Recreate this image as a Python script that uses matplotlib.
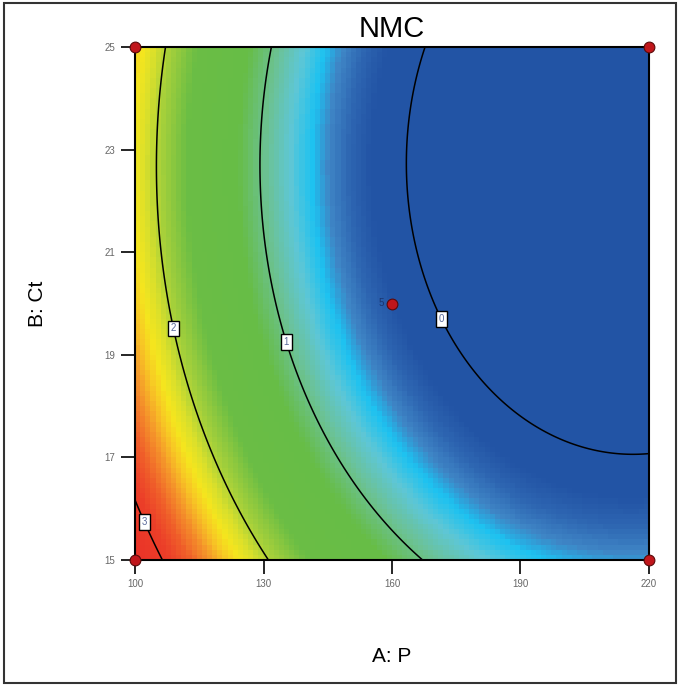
import numpy as np
import matplotlib
matplotlib.use('Agg')
import matplotlib.pyplot as plt
from matplotlib.colors import LinearSegmentedColormap
from matplotlib.patches import Rectangle

plt.rcParams['font.family'] = ['Liberation Sans', 'DejaVu Sans']

# quadratic model in coded units: a = (P-160)/60, b = (Ct-20)/5
# order: const, a, b, ab, a^2, b^2
coef = [0.2110, -1.4075, -0.4928, -0.0105, 0.7473, 0.4518]
p_range = [100, 220]
ct_range = [15, 25]
levels = [0, 1, 2, 3]
label_pos = [(171.9, 19.72), (135.5, 19.25), (109.3, 19.52), (102.8, 15.76)]

design_p = [100, 100, 220, 220, 160]
design_ct = [15, 25, 15, 25, 20]
center_reps = 5

x_ticks = [100, 130, 160, 190, 220]
y_ticks = [15, 17, 19, 21, 23, 25]


def model(p, ct):
    a = (p - 160) / 60
    b = (ct - 20) / 5
    return coef[0] + coef[1]*a + coef[2]*b + coef[3]*a*b + coef[4]*a*a + coef[5]*b*b


# Design-Expert like spectrum (value, colour)
nodes = [(0.19, '#2254a5'), (0.33, '#2e66b2'), (0.47, '#3f86c6'), (0.59, '#1dc2f1'),
         (0.75, '#5ec7d6'), (0.95, '#6cc294'), (1.2, '#67bd47'), (1.7, '#6bbe45'),
         (1.85, '#8cc83f'), (2.0, '#abd23a'), (2.15, '#dbe02b'), (2.28, '#f5e61e'),
         (2.4, '#f8c825'), (2.55, '#f5962b'), (2.75, '#f0602a'), (2.95, '#ec3f29'),
         (3.3, '#ea3328')]
vmin, vmax = nodes[0][0], nodes[-1][0]
cmap = LinearSegmentedColormap.from_list(
    'de', [((v - vmin) / (vmax - vmin), c) for v, c in nodes])

fig = plt.figure(figsize=(6.8, 6.86), dpi=100)
ax = fig.add_axes([135/680, 1-560/686, 514/680, 513/686])

# blocky colour field
n = 100
pc = np.linspace(p_range[0], p_range[1], n)
cc = np.linspace(ct_range[0], ct_range[1], n)
PP, CC = np.meshgrid(pc, cc)
ax.imshow(model(PP, CC), origin='lower', extent=[100, 220, 15, 25], aspect='auto',
          cmap=cmap, vmin=vmin, vmax=vmax, interpolation='nearest')

# contour lines
pf = np.linspace(p_range[0], p_range[1], 400)
cf = np.linspace(ct_range[0], ct_range[1], 400)
PF, CF = np.meshgrid(pf, cf)
cs = ax.contour(PF, CF, model(PF, CF), levels=levels, colors='black', linewidths=1.1)
labs = ax.clabel(cs, fmt='%d', inline=False, fontsize=7, manual=label_pos, colors='#5a6a9a')
for t in labs:
    t.set_rotation(0)
    t.set_bbox(dict(facecolor='white', edgecolor='black', linewidth=1, pad=2))
    t.set_zorder(6)

# design points
ax.scatter(design_p, design_ct, s=60, c='#c0161b', edgecolors='#5a0a0a', linewidths=0.8,
           clip_on=False, zorder=7)
ax.annotate(str(center_reps), (design_p[-1], design_ct[-1]), xytext=(-6, 0),
            textcoords='offset points', ha='right', va='center', fontsize=7, color='#1a3570')

ax.set_xlim(p_range)
ax.set_ylim(ct_range)
ax.set_xticks(x_ticks)
ax.set_yticks(y_ticks)
ax.tick_params(direction='out', length=10, width=1.2, labelsize=7, labelcolor='#666666', pad=4)
for s in ax.spines.values():
    s.set_linewidth(1.5)

ax.set_title('NMC', fontsize=21, pad=7)
ax.set_xlabel('A: P', fontsize=15)
ax.xaxis.set_label_coords(0.5, -(647-560)/513)
ax.set_ylabel('B: Ct', fontsize=15)
ax.yaxis.set_label_coords(-(135-47)/514, 0.5)

fig.patches.append(Rectangle((4/680, 3/686), 672/680, 680/686, transform=fig.transFigure,
                             fill=False, edgecolor='#333333', linewidth=1.5))

fig.savefig('out.png', dpi=100)
